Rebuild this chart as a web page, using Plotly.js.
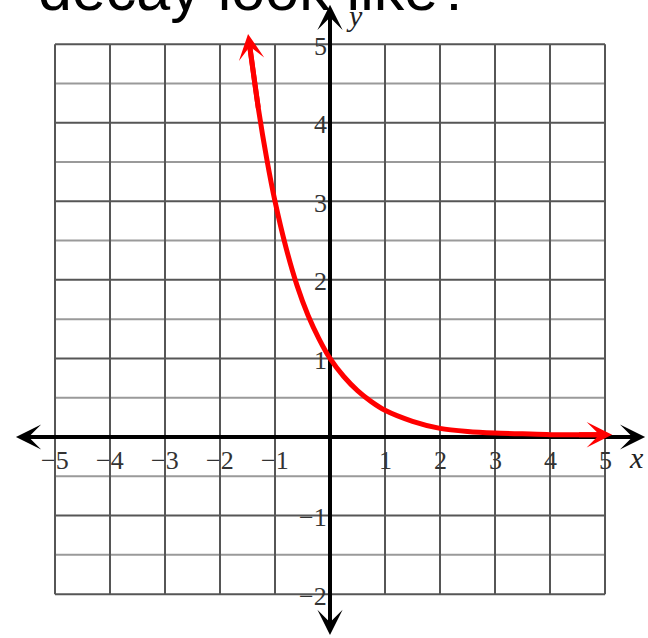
<!DOCTYPE html>
<html>
<head>
<meta charset="utf-8">
<script src="https://cdn.plot.ly/plotly-3.0.1.min.js"></script>
<style>
  html, body { margin: 0; padding: 0; background: #fff; }
  #chart { width: 648px; height: 638px; }
</style>
</head>
<body>
<div id="chart"></div>
<script>
// Exponential decay curve drawn on a coordinate grid
const headingText = 'decay look like?';

const xTickValues = [-5, -4, -3, -2, -1, 1, 2, 3, 4, 5];
const xTickLabels = ['\u22125', '\u22124', '\u22123', '\u22122', '\u22121', '1', '2', '3', '4', '5'];
const yTickValues = [-2, -1, 1, 2, 3, 4, 5];
const yTickLabels = ['\u22122', '\u22121', '1', '2', '3', '4', '5'];

const xGridValues = [-5, -4, -3, -2, -1, 0, 1, 2, 3, 4, 5];
const yGridValues = [-2, -1.5, -1, -0.5, 0, 0.5, 1, 1.5, 2, 2.5, 3, 3.5, 4, 4.5, 5];

const curveX = [-1.465, -1.3, -1.15, -1, -0.8, -0.6, -0.4, -0.2, 0, 0.25, 0.5, 0.75, 1, 1.5, 2, 2.5, 3, 3.5, 4, 4.5, 5.0];
const curveY = [5.0, 4.17, 3.54, 3.0, 2.41, 1.93, 1.55, 1.25, 1.0, 0.77, 0.59, 0.45, 0.34, 0.2, 0.11, 0.07, 0.05, 0.04, 0.03, 0.03, 0.03];

// Where the curve's arrow tips end
const curveStartTip = [-1.49, 5.13];
const curveEndTip = [5.13, 0.03];

// Extent of the two axis arrows
const xAxisEnds = [-5.71, 5.73];
const yAxisEnds = [-2.52, 5.5];

// Geometry: 55 px per x unit, 550/7 px per y unit, origin at (330, 437)
const W = 648, H = 638;
const pxX = 55, pxY = 550 / 7;
const x0 = 330, y0 = 437;
const xRange = [-x0 / pxX, (W - x0) / pxX];
const yRange = [-(H - y0) / pxY, y0 / pxY];

const gridMin = { x: xGridValues[0], y: yGridValues[0] };
const gridMax = { x: xGridValues[xGridValues.length - 1], y: yGridValues[yGridValues.length - 1] };

const shapes = [];
// light half-unit lines first, dark unit lines on top
yGridValues.filter(v => !Number.isInteger(v)).forEach(v => {
  shapes.push({ type: 'line', layer: 'below', xref: 'x', yref: 'y',
    x0: gridMin.x, x1: gridMax.x, y0: v, y1: v,
    line: { color: '#9a9a9a', width: 2 } });
});
yGridValues.filter(v => Number.isInteger(v)).forEach(v => {
  shapes.push({ type: 'line', layer: 'below', xref: 'x', yref: 'y',
    x0: gridMin.x, x1: gridMax.x, y0: v, y1: v,
    line: { color: '#565656', width: 2 } });
});
xGridValues.forEach(v => {
  shapes.push({ type: 'line', layer: 'below', xref: 'x', yref: 'y',
    x0: v, x1: v, y0: gridMin.y, y1: gridMax.y,
    line: { color: '#565656', width: 2 } });
});
// axis lines
shapes.push({ type: 'line', layer: 'below', xref: 'x', yref: 'y',
  x0: xAxisEnds[0] + 0.2, x1: xAxisEnds[1] - 0.2, y0: 0, y1: 0,
  line: { color: '#000', width: 4 } });
shapes.push({ type: 'line', layer: 'below', xref: 'x', yref: 'y',
  x0: 0, x1: 0, y0: yAxisEnds[0] + 0.15, y1: yAxisEnds[1] - 0.15,
  line: { color: '#000', width: 4 } });

const annotations = [];
const tickFont = { family: 'Liberation Serif, Times New Roman, serif', size: 26, color: '#333' };

xTickValues.forEach((v, i) => {
  annotations.push({ xref: 'x', yref: 'y', x: v, y: 0, text: xTickLabels[i],
    showarrow: false, xanchor: 'center', yanchor: 'middle', yshift: -23, font: tickFont });
});
yTickValues.forEach((v, i) => {
  annotations.push({ xref: 'x', yref: 'y', x: 0, y: v, text: yTickLabels[i],
    showarrow: false, xanchor: 'right', yanchor: 'middle', xshift: -1, yshift: -2, font: tickFont });
});

// axis names
const nameFont = { family: 'Liberation Serif, Times New Roman, serif', size: 30, color: '#222' };
annotations.push({ xref: 'x', yref: 'y', x: 0, y: 0, text: '<i>x</i>', showarrow: false,
  xanchor: 'center', yanchor: 'middle', xshift: 306, yshift: -20, font: nameFont });
annotations.push({ xref: 'x', yref: 'y', x: 0, y: 0, text: '<i>y</i>', showarrow: false,
  xanchor: 'center', yanchor: 'middle', xshift: 24, yshift: 422, font: nameFont });

// black arrowheads on the axes
const axisArrow = { text: '', showarrow: true, arrowhead: 3, arrowwidth: 4, arrowsize: 1.05,
  arrowcolor: '#000', xref: 'x', yref: 'y', axref: 'x', ayref: 'y' };
annotations.push(Object.assign({}, axisArrow, { x: xAxisEnds[1], y: 0, ax: xAxisEnds[1] - 0.5, ay: 0 }));
annotations.push(Object.assign({}, axisArrow, { x: xAxisEnds[0], y: 0, ax: xAxisEnds[0] + 0.5, ay: 0 }));
annotations.push(Object.assign({}, axisArrow, { x: 0, y: yAxisEnds[1], ax: 0, ay: yAxisEnds[1] - 0.4 }));
annotations.push(Object.assign({}, axisArrow, { x: 0, y: yAxisEnds[0], ax: 0, ay: yAxisEnds[0] + 0.4 }));

// red arrowheads on the curve
const curveArrow = { text: '', showarrow: true, arrowhead: 3, arrowwidth: 5, arrowsize: 0.85,
  arrowcolor: '#ff0000', xref: 'x', yref: 'y', axref: 'x', ayref: 'y' };
annotations.push(Object.assign({}, curveArrow, {
  x: curveStartTip[0], y: curveStartTip[1], ax: curveX[1], ay: curveY[1] }));
annotations.push(Object.assign({}, curveArrow, {
  x: curveEndTip[0], y: curveEndTip[1], ax: curveX[curveX.length - 2], ay: curveY[curveY.length - 2] }));

// heading text, mostly above the top edge
annotations.push({ xref: 'paper', yref: 'paper', x: 37 / W, y: 1, text: headingText,
  showarrow: false, xanchor: 'left', yanchor: 'top', yshift: 46, borderpad: 0,
  font: { family: 'Liberation Sans, Arial, sans-serif', size: 61, color: '#000' } });

const traces = [{
  type: 'scatter', mode: 'lines', x: curveX, y: curveY,
  line: { color: '#ff0000', width: 5, shape: 'spline', smoothing: 0.8 },
  hoverinfo: 'skip', showlegend: false
}];

const layout = {
  width: W, height: H,
  margin: { l: 0, r: 0, t: 0, b: 0, pad: 0 },
  paper_bgcolor: '#fff', plot_bgcolor: '#fff',
  xaxis: { range: xRange, visible: false, fixedrange: true },
  yaxis: { range: yRange, visible: false, fixedrange: true },
  shapes: shapes,
  annotations: annotations,
  showlegend: false
};

Plotly.newPlot('chart', traces, layout, { displayModeBar: false, staticPlot: true });
</script>
</body>
</html>
